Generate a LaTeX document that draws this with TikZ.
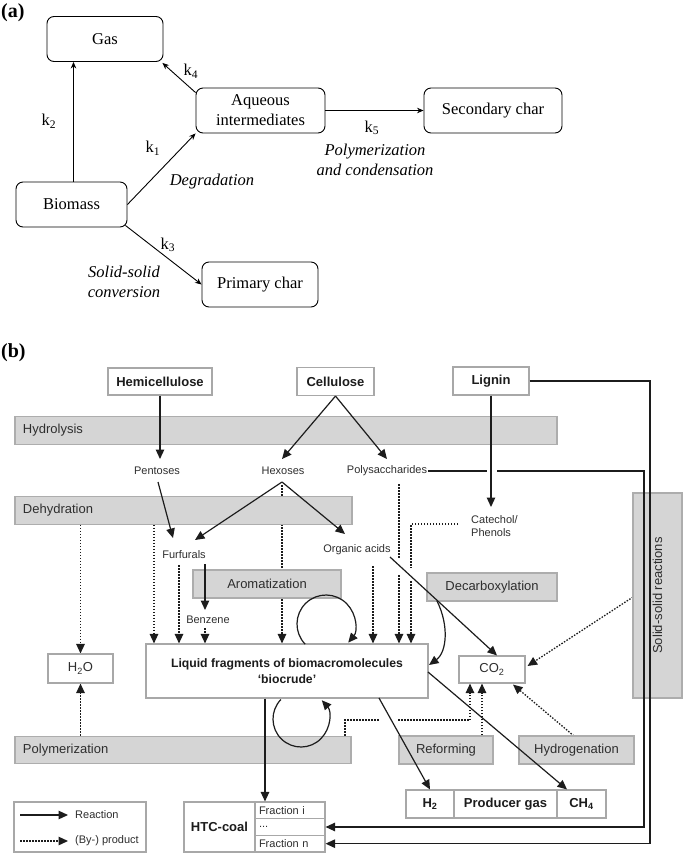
\documentclass[tikz,border=0pt]{standalone}
\usepackage{fontspec}
\setmainfont{Liberation Serif}
\setsansfont{Liberation Sans}
\usetikzlibrary{arrows.meta,backgrounds}
\definecolor{boxgray}{HTML}{A8A8A8}
\definecolor{barfill}{HTML}{D5D5D5}
\definecolor{barline}{HTML}{ADADAD}
\definecolor{ink}{HTML}{1C1C1C}
\definecolor{txt}{HTML}{2E2E2E}
\begin{document}
\begin{tikzpicture}[x=1pt,y=1pt,
 abox/.style={draw=black, rounded corners=7pt, line width=0.9pt, font=\fontsize{16.5}{20}\selectfont, align=center, inner sep=0pt, minimum height=45},
 aarr/.style={-{Stealth[length=6.5pt,width=5.5pt]}, line width=0.9pt},
 alab/.style={font=\fontsize{16.5}{19}\selectfont, inner sep=0pt},
 ital/.style={font=\fontsize{16.5}{20}\selectfont\itshape, align=center, inner sep=0pt},
 gbox/.style={draw=boxgray, fill=white, line width=1.1pt, font=\sffamily\bfseries\fontsize{13}{15}\selectfont, inner sep=0pt, align=center, text=ink},
 bar/.style={draw=barline, fill=barfill, line width=1.1pt, font=\sffamily\fontsize{13}{15}\selectfont, inner sep=0pt, text=txt},
 lbar/.style={bar, align=left, inner xsep=8pt, minimum height=27.5},
 slab/.style={font=\sffamily\fontsize{11}{13.5}\selectfont, text=txt, inner sep=1pt},
 frac/.style={gbox, font=\sffamily\fontsize{11}{13}\selectfont, text=txt, minimum height=16.67, text width=62, inner xsep=4pt, align=left},
 rarr/.style={-{Triangle[length=9.5pt,width=8.5pt]}, line width=1.2pt, draw=ink},
 rline/.style={line width=1.2pt, draw=ink},
 parr/.style={-{Triangle[length=9.5pt,width=8.5pt]}, line width=1.3pt, draw=ink, dash pattern=on 1.5pt off 1.5pt},
 pline/.style={line width=1.3pt, draw=ink, dash pattern=on 1.5pt off 1.5pt},
]
\useasboundingbox (0,0) rectangle (685,-855);

% ---------------- (a) ----------------
\node[font=\bfseries\fontsize{20}{22}\selectfont, anchor=west, inner sep=0pt] (la) at (1,-13) {(a)};
\node[abox, minimum width=116] (gas) at (105,-39) {Gas};
\node[abox, minimum width=129] (aq) at (260.5,-110.5) {Aqueous\\intermediates};
\node[abox, minimum width=138] (sec) at (493,-110.5) {Secondary char};
\node[abox, minimum width=111] (bio) at (71.5,-204.5) {Biomass};
\node[abox, minimum width=116] (prim) at (260,-284.5) {Primary char};

\coordinate (xk2) at (73.5,0);
\draw[aarr] (bio.north -| xk2) -- (gas.south -| xk2);
\draw[aarr] (bio.east) -- (aq.south west);
\draw[aarr] ([yshift=-5pt]aq.north west) -- ([xshift=-1pt,yshift=-1pt]gas.south east);
\draw[aarr] (aq.east) -- (sec.west);
\draw[aarr] ([xshift=-2pt,yshift=2pt]bio.south east) -- (prim.west);

\node[alab] (k1) at (153,-148) {k\textsubscript{1}};
\node[alab] (k2) at (49,-121) {k\textsubscript{2}};
\node[alab] (k3) at (168,-245) {k\textsubscript{3}};
\node[alab] (k4) at (191,-71) {k\textsubscript{4}};
\node[alab] (k5) at (372,-128) {k\textsubscript{5}};
\node[ital] (deg) at (212,-182) {Degradation};
\node[ital] (polc) at (375,-160) {Polymerization\\and condensation};
\node[ital] (ssc) at (124,-281.5) {Solid-solid\\conversion};

% ---------------- (b) ----------------
\node[font=\bfseries\fontsize{20}{22}\selectfont, anchor=west, inner sep=0pt] (lb) at (1,-353) {(b)};

% bars
\node[lbar, text width=526] (hyd) at (286,-430.5) {Hydrolysis};
\node[lbar, text width=321] (dehy) at (183.5,-510.5) {Dehydration};
\node[bar, minimum width=148, minimum height=28] (arom) at (267,-584) {Aromatization};
\node[bar, minimum width=130, minimum height=28] (decarb) at (492,-587) {Decarboxylation};
\node[bar, minimum width=205, minimum height=49, rotate=90] (ssr) at (657.5,-595.5) {Solid-solid reactions};
\node[lbar, text width=320] (poly) at (183,-750) {Polymerization};
\node[bar, minimum width=94, minimum height=28] (ref) at (446,-750) {Reforming};
\node[bar, minimum width=115, minimum height=28] (hydg) at (576.5,-750) {Hydrogenation};

% boxes
\node[gbox, minimum width=104, minimum height=27] (hemi) at (160,-381.5) {Hemicellulose};
\node[gbox, minimum width=77, minimum height=28] (cell) at (335.5,-381.5) {Cellulose};
\node[gbox, minimum width=76, minimum height=28] (lig) at (491,-381) {Lignin};
\node[gbox, minimum width=282, minimum height=54, font=\sffamily\bfseries\fontsize{12.2}{16}\selectfont] (liq) at (287,-671) {Liquid fragments of biomacromolecules\\‘biocrude’};
\node[gbox, font=\sffamily\fontsize{13}{15}\selectfont, text=txt, minimum width=65, minimum height=29] (h2o) at (80.5,-668.5) {H\textsubscript{2}O};
\node[gbox, font=\sffamily\fontsize{13}{15}\selectfont, text=txt, minimum width=66, minimum height=27] (co2) at (492,-669.5) {CO\textsubscript{2}};
\node[gbox, minimum width=48, minimum height=28] (h2) at (430,-804) {H\textsubscript{2}};
\node[gbox, minimum width=103, minimum height=28] (pg) at (505.5,-804) {Producer gas};
\node[gbox, minimum width=49, minimum height=28] (ch4) at (581.5,-804) {CH\textsubscript{4}};
\node[gbox, minimum width=71, minimum height=50] (htc) at (219.5,-827) {HTC-coal};
\node[frac] (fi) at (290,-810.33) {Fraction i};
\node[frac] (fd) at (290,-827) {...};
\node[frac] (fn) at (290,-843.67) {Fraction n};
\node[gbox, minimum width=132, minimum height=50] (leg) at (80,-827) {};

% small labels
\node[slab] (pent) at (157,-471) {Pentoses};
\node[slab] (hex) at (283,-471) {Hexoses};
\node[slab] (psac) at (387,-471) {Polysaccharides};
\node[slab] (furf) at (184,-555) {Furfurals};
\node[slab] (orga) at (357,-550) {Organic acids};
\node[slab] (benz) at (208,-620) {Benzene};
\node[slab, align=left, anchor=north west] (cat) at (470,-514) {Catechol/\\Phenols};
\node[slab, anchor=west] (lreac) at (74,-815) {Reaction};
\node[slab, anchor=west] (lprod) at (74,-841) {(By-) product};

% coordinates
\coordinate (pentT) at (160,-459);
\coordinate (pentB) at (158,-482);
\coordinate (hexT) at (282,-459);
\coordinate (hexB) at (282,-482);
\coordinate (psacT) at (387,-459);
\coordinate (catT) at (491,-507);
\coordinate (furfT) at (173,-538);
\coordinate (furfT2) at (195,-540);
\coordinate (orgaT) at (345,-534);
\coordinate (furfB) at (205,-564);
\coordinate (benzT) at (205,-610);
\coordinate (orgaE) at (390,-557);
\coordinate (x154) at (154,0);
\coordinate (x179) at (179,0);
\coordinate (x205) at (205,0);
\coordinate (x265) at (265,0);
\coordinate (x282) at (282,0);
\coordinate (x373) at (373,0);
\coordinate (x399) at (399,0);
\coordinate (x411) at (411,0);
\coordinate (x470) at (470,0);
\coordinate (x482) at (482,0);
\coordinate (x345) at (345,0);
\coordinate (ps1) at (487,-471);
\coordinate (ps2) at (497,-471);
\coordinate (ps3) at (644,-471);
\coordinate (ps4) at (644,-827);
\coordinate (lg1) at (650,-381);
\coordinate (lg2) at (650,-843.67);
\coordinate (h2S) at (379,-698);
\coordinate (ch4S) at (428,-672);
\coordinate (dcS) at (437,-601);
\coordinate (dcE) at (429,-665);
\coordinate (up) at (326,-624);
\coordinate (lo) at (301,-719);
\coordinate (legA) at (20,-815);
\coordinate (legB) at (68,-815);
\coordinate (legC) at (20,-841);
\coordinate (legD) at (68,-841);

% solid arrows
\draw[rarr] (hemi.south) -- (pentT);
\draw[rarr] (cell.south) -- (hexT);
\draw[rarr] (cell.south) -- (psacT);
\draw[rarr] (lig.south) -- (catT);
\draw[rarr] (pentB) -- (furfT);
\draw[rarr] (hexB) -- (furfT2);
\draw[rarr] (hexB) -- (orgaT);
\draw[rarr] (furfB) -- (benzT);
\draw[rarr] (orgaE) -- ([xshift=5pt]co2.north);
\draw[rarr] (liq.south -| x265) -- (fi.north -| x265);
\draw[rarr] (h2S) -- (h2.north);
\draw[rarr] (ch4S) -- ([xshift=-14.5pt]ch4.north);
\draw[rline] (psac.east) -- (ps1);
\draw[rarr] (ps2) -- (ps3) -- (ps4) -- (fd.east);
\draw[rarr] (lig.east) -- (lg1) -- (lg2) -- (fn.east);
\draw[rarr] (dcS) .. controls (449,-625) and (447,-652) .. (dcE);
\draw[rarr] (up) ++(224:29) arc[start angle=224, end angle=-40, radius=29];
\draw[rarr] (lo) ++(136:28) arc[start angle=136, end angle=402, radius=28];
\draw[rarr] (legA) -- (legB);
\draw[parr] (legC) -- (legD);

% dotted arrows (behind bars)
\begin{pgfonlayer}{background}
\draw[parr] (dehy.south -| h2o) -- (h2o.north);
\draw[parr] (poly.north -| h2o) -- (h2o.south);
\draw[parr] (dehy.south -| x154) -- (liq.north -| x154);
\draw[parr] (179,-565) -- (liq.north -| x179);
\draw[parr] (205,-628) -- (liq.north -| x205);
\draw[parr] (282,-485) -- (liq.north -| x282);
\draw[parr] (373,-566) -- (liq.north -| x373);
\draw[pline] (399,-484) -- (399,-558);
\draw[parr] (399,-575) -- (liq.north -| x399);
\draw[pline] (458,-524) -- (411,-524) -- (411,-568);
\draw[parr] (411,-581) -- (liq.north -| x411);
\draw[pline] (poly.north -| x345) -- (345,-720) -- (380,-720);
\draw[parr] (398,-720) -- (470,-720) -- (co2.south -| x470);
\draw[parr] (ref.north -| x482) -- (co2.south -| x482);
\draw[parr] (574,-736) -- ([xshift=21pt,yshift=-1pt]co2.south);
\draw[parr] (633,-597) -- ([xshift=2pt,yshift=3.5pt]co2.east);
\end{pgfonlayer}
\end{tikzpicture}
\end{document}
